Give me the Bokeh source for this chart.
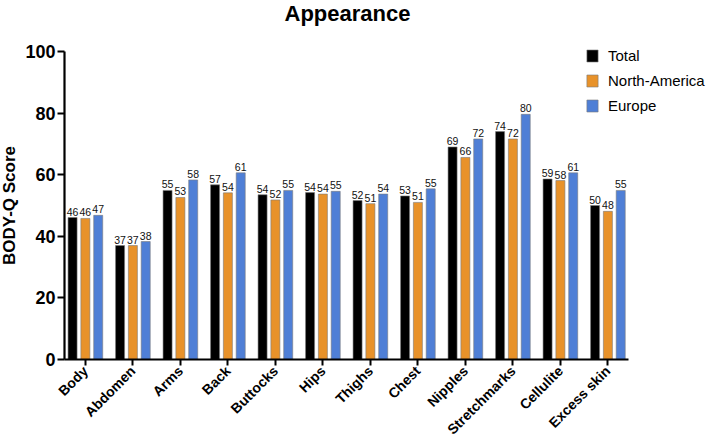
from bokeh.plotting import figure
from bokeh.models import Range1d, FixedTicker, ColumnDataSource, LabelSet, Legend, LegendItem, Label
from bokeh.core.properties import value
from bokeh.embed import file_html
from bokeh.resources import INLINE
import math

title_text = "Appearance"
categories = ["Body", "Abdomen", "Arms", "Back", "Buttocks", "Hips", "Thighs",
              "Chest", "Nipples", "Stretchmarks", "Cellulite", "Excess skin"]
total = [46.1, 37.0, 54.9, 56.7, 53.5, 54.2, 51.6, 53.1, 69.0, 74.0, 58.6, 50.0]
north_america = [45.8, 37.0, 52.6, 54.1, 51.8, 53.7, 50.6, 51.0, 65.6, 71.6, 58.1, 48.1]
europe = [46.8, 38.3, 58.3, 60.6, 54.9, 54.6, 53.7, 55.4, 71.6, 79.6, 60.6, 54.9]
series_names = ["Total", "North-America", "Europe"]
colors = ["#000000", "#E8922A", "#4F7FD6"]
y_ticks = [0, 20, 40, 60, 80, 100]

FONT = "Liberation Sans"

# the frame covers the whole canvas; both axes are fixed at the data origin and bounded
p = figure(width=709, height=440, output_backend="svg", toolbar_location=None,
           x_range=Range1d(-1.787, 13.139), y_range=Range1d(-26.3, 116.56),
           min_border_left=0, min_border_right=0, min_border_top=0, min_border_bottom=0)

p.xgrid.visible = False
p.ygrid.visible = False
p.outline_line_color = None

title = Label(x=347, y=427, x_units="screen", y_units="screen", text=title_text,
              text_align="center", text_baseline="alphabetic",
              text_font=FONT, text_font_size="22px", text_font_style="bold",
              text_color="#000000")
p.add_layout(title)

idx = list(range(len(categories)))
offsets = [-0.27, 0.0, 0.27]
bw = 0.19
renderers = []
for vals, name, col, off in zip([total, north_america, europe], series_names, colors, offsets):
    src = ColumnDataSource(dict(x=[i + off for i in idx], top=vals,
                                lab=[str(int(round(v))) for v in vals]))
    r = p.vbar(x="x", top="top", width=bw, bottom=0, source=src,
               fill_color=col, line_color="#7a7a7a", line_width=0.6)
    renderers.append((name, r))
    ls = LabelSet(x="x", y="top", text="lab", source=src, y_offset=2,
                  text_align="center", text_baseline="bottom",
                  text_font=value(FONT), text_font_size="10.5px", text_color="#111111")
    p.add_layout(ls)

legend = Legend(items=[LegendItem(label=n, renderers=[r]) for n, r in renderers],
                location=(585, 326), padding=0, spacing=8, margin=0,
                border_line_color=None, background_fill_alpha=0,
                glyph_width=14, glyph_height=15, label_standoff=9, label_height=15,
                label_text_font=FONT, label_text_font_size="15px", label_text_color="#000000")
p.add_layout(legend, "center")

# x axis, fixed at y = 0
p.xaxis.fixed_location = 0
p.xaxis.bounds = (-0.44, 11.44)
p.xaxis.ticker = FixedTicker(ticks=idx)
p.xaxis.major_label_overrides = {i: c for i, c in zip(idx, categories)}
p.xaxis.major_label_orientation = math.pi / 4
p.xaxis.major_label_text_font = FONT
p.xaxis.major_label_text_font_style = "bold"
p.xaxis.major_label_text_font_size = "14px"
p.xaxis.major_label_text_color = "#000000"
p.xaxis.major_label_standoff = 3
p.xaxis.axis_line_width = 2.2
p.xaxis.major_tick_line_width = 2
p.xaxis.major_tick_out = 6
p.xaxis.major_tick_in = 0
p.xaxis.minor_tick_line_color = None
p.xaxis.axis_line_color = "#000000"
p.xaxis.major_tick_line_color = "#000000"

# y axis, fixed at the left edge of the category area
p.yaxis.fixed_location = -0.44
p.yaxis.bounds = (0, 100)
p.yaxis.ticker = FixedTicker(ticks=y_ticks)
p.yaxis.major_label_text_font = FONT
p.yaxis.major_label_text_font_style = "bold"
p.yaxis.major_label_text_font_size = "18px"
p.yaxis.major_label_text_color = "#000000"
p.yaxis.major_label_standoff = 2
p.yaxis.axis_line_width = 2.2
p.yaxis.major_tick_line_width = 2
p.yaxis.major_tick_out = 7
p.yaxis.major_tick_in = 0
p.yaxis.minor_tick_line_color = None
p.yaxis.axis_line_color = "#000000"
p.yaxis.major_tick_line_color = "#000000"
p.yaxis.axis_label = "BODY-Q Score"
p.yaxis.axis_label_text_font = FONT
p.yaxis.axis_label_text_font_style = "bold"
p.yaxis.axis_label_text_font_size = "17px"
p.yaxis.axis_label_text_color = "#000000"
p.yaxis.axis_label_standoff = 3

open("out.html", "w").write(file_html(p, INLINE))
